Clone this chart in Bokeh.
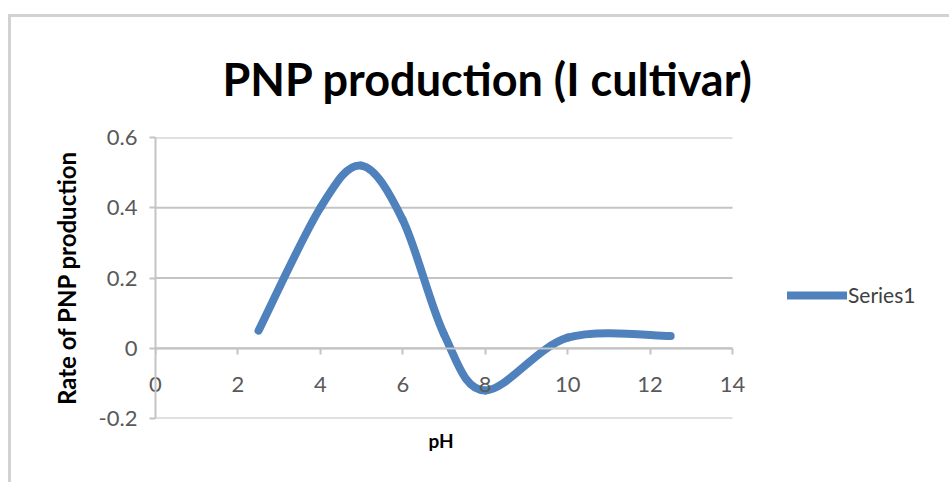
from bokeh.plotting import figure
from bokeh.models import (Range1d, FixedTicker, Legend, LegendItem, LinearAxis, Title)
from bokeh.embed import file_html
from bokeh.resources import INLINE

# ---- data ----
ph = [2.5, 4.0, 5.0, 6.0, 7.0, 8.0, 10.0, 12.5]
rate = [0.05, 0.40, 0.52, 0.365, 0.04, -0.12, 0.03, 0.035]
series_name = "Series1"
x_ticks = [0, 2, 4, 6, 8, 10, 12, 14]
y_ticks = [-0.2, 0.0, 0.2, 0.4, 0.6]
y_tick_labels = ["-0.2", "0", "0.2", "0.4", "0.6"]
title_text = "PNP production (I cultivar)"
x_title = "pH"
y_title = "Rate of PNP production"

FONT = "Lato"
BLUE = "#4F81BD"
GRID = "#c4c4c4"

# layout (pixels)
W, H = 941, 468
LEFT, TOP, BOTTOM = 144, 120, 67
AX_PX = 577                      # pixel length of the 0..14 axis
X_MAX = x_ticks[-1] * (W - LEFT) / AX_PX   # plot area continues to the right edge

p = figure(width=W, height=H, output_backend="svg", toolbar_location=None,
           x_range=Range1d(0, X_MAX), y_range=Range1d(-0.2, 0.6),
           min_border_left=LEFT, min_border_right=0, min_border_top=TOP,
           min_border_bottom=BOTTOM, title=None)
p.styles = {"border-left": "3px solid #d2d2d2", "border-top": "3px solid #d2d2d2",
            "margin-left": "8px", "margin-top": "14px"}
p.outline_line_color = None
p.background_fill_color = "white"
p.border_fill_color = "white"

# horizontal gridlines, only over the 0..14 axis
p.xgrid.grid_line_color = None
p.ygrid.grid_line_color = None
p.segment(x0=[x_ticks[0]] * len(y_ticks), x1=[x_ticks[-1]] * len(y_ticks),
          y0=y_ticks, y1=y_ticks, line_color=GRID, line_width=2)

# x axis line + ticks crossing at y = 0
xa = p.xaxis[0]
xa.ticker = FixedTicker(ticks=x_ticks)
xa.bounds = (x_ticks[0], x_ticks[-1])
xa.fixed_location = 0
xa.axis_line_color = GRID
xa.axis_line_width = 2
xa.major_tick_line_color = GRID
xa.major_tick_line_width = 2
xa.major_tick_out = 6
xa.major_tick_in = 0
xa.minor_tick_line_color = None
xa.major_label_text_alpha = 0
xa.major_label_text_font_size = "1px"

# x tick labels (just under the y = 0 line)
xl = LinearAxis(ticker=FixedTicker(ticks=x_ticks), bounds=(x_ticks[0], x_ticks[-1]))
xl.axis_line_color = None
xl.major_tick_line_color = None
xl.minor_tick_line_color = None
xl.major_tick_out = 0
xl.major_tick_in = 0
xl.major_label_standoff = -42
xl.major_label_text_font = FONT
xl.major_label_text_font_size = "22px"
xl.major_label_text_color = "#595959"
xl.major_label_overrides = {t: str(t) for t in x_ticks}
p.add_layout(xl, "below")

# x-axis title, centred under the 0..14 axis
p.add_layout(Title(text=x_title, align="left", offset=273, standoff=17,
                   text_font=FONT, text_font_size="19px", text_font_style="bold",
                   text_color="#000000"), "below")

ya = p.yaxis[0]
ya.ticker = FixedTicker(ticks=y_ticks)
ya.major_label_overrides = {t: l for t, l in zip(y_ticks, y_tick_labels)}
ya.axis_line_color = GRID
ya.axis_line_width = 2
ya.major_tick_line_color = GRID
ya.major_tick_line_width = 2
ya.major_tick_out = 6
ya.major_tick_in = 0
ya.minor_tick_line_color = None
ya.major_label_standoff = 12
ya.major_label_text_font = FONT
ya.major_label_text_font_size = "22px"
ya.major_label_text_color = "#595959"
ya.axis_label = y_title
ya.axis_label_text_font = FONT
ya.axis_label_text_font_size = "24px"
ya.axis_label_text_font_style = "bold"
ya.axis_label_text_color = "#000000"
ya.axis_label_standoff = 15

# smoothed line (Excel-style Bezier through the data points)
n = len(ph)
x0, y0, x1, y1, cx0, cy0, cx1, cy1 = [], [], [], [], [], [], [], []
for i in range(n - 1):
    pa = (ph[max(i - 1, 0)], rate[max(i - 1, 0)])
    pb = (ph[i], rate[i])
    pc = (ph[i + 1], rate[i + 1])
    pd = (ph[min(i + 2, n - 1)], rate[min(i + 2, n - 1)])
    x0.append(pb[0]); y0.append(pb[1])
    x1.append(pc[0]); y1.append(pc[1])
    cx0.append(pb[0] + (pc[0] - pa[0]) / 6); cy0.append(pb[1] + (pc[1] - pa[1]) / 6)
    cx1.append(pc[0] - (pd[0] - pb[0]) / 6); cy1.append(pc[1] - (pd[1] - pb[1]) / 6)

r = p.bezier(x0=x0, y0=y0, x1=x1, y1=y1, cx0=cx0, cy0=cy0, cx1=cx1, cy1=cy1,
             line_color=BLUE, line_width=8, line_cap="round")

legend = Legend(items=[LegendItem(label=series_name, renderers=[r])],
                location=(632, 111), orientation="vertical")
legend.padding = 0
legend.margin = 0
legend.spacing = 0
legend.border_line_color = None
legend.background_fill_alpha = 0
legend.glyph_width = 60
legend.glyph_height = 20
legend.label_standoff = 1
legend.label_text_font = FONT
legend.label_text_font_size = "21px"
legend.label_text_color = "#404040"
p.add_layout(legend)

# title
t = Title(text=title_text, align="left", offset=67, standoff=63,
          text_font=FONT, text_font_size="45px", text_font_style="bold",
          text_color="#000000")
p.add_layout(t, "above")

open("out.html", "w").write(file_html(p, INLINE))
